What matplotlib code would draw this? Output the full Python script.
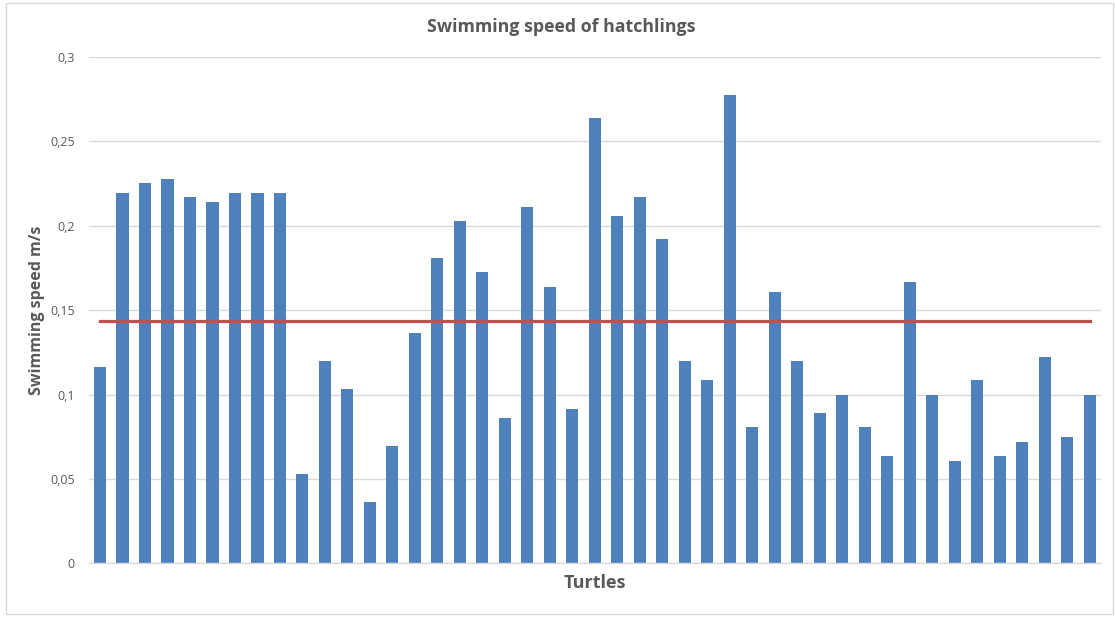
import numpy as np
import matplotlib.pyplot as plt
from matplotlib.patches import Rectangle

# swimming speed per turtle (m/s)
turtles = np.arange(1, 46)
speed = [0.1166, 0.2195, 0.2252, 0.2278, 0.2168, 0.2142, 0.2195, 0.2195, 0.2195,
         0.0528, 0.1196, 0.1030, 0.0362, 0.0694, 0.1362, 0.1807, 0.2030, 0.1724,
         0.0860, 0.2110, 0.1640, 0.0917, 0.2638, 0.2055, 0.2168, 0.1919, 0.1196,
         0.1085, 0.2774, 0.0806, 0.1610, 0.1196, 0.0889, 0.1000, 0.0806, 0.0637,
         0.1666, 0.1000, 0.0609, 0.1085, 0.0637, 0.0720, 0.1224, 0.0750, 0.1000]
yticks = [0, 0.05, 0.1, 0.15, 0.2, 0.25, 0.3]
ytick_labels = ["0", "0,05", "0,1", "0,15", "0,2", "0,25", "0,3"]

mean_speed = np.mean(speed)

font = ["Open Sans", "DejaVu Sans"]
grey = "#595959"
grid = "#d9d9d9"

fig = plt.figure(figsize=(11.15, 6.17), dpi=100)
ax = fig.add_axes([0.0796, 0.087, 0.9077, 0.8206])

ax.bar(turtles, speed, width=0.54, color="#4f81bd", zorder=2)
ax.plot([turtles[0], turtles[-1]], [mean_speed, mean_speed],
        color="#c0504d", linewidth=2.3, zorder=3)

ax.set_xlim(0.5, len(turtles) + 0.5)
ax.set_ylim(0, 0.3)
ax.set_yticks(yticks)
ax.set_yticklabels(ytick_labels, fontfamily=font, fontsize=9, color=grey)
ax.set_xticks([])
ax.tick_params(axis="y", length=0, pad=10)
ax.yaxis.grid(True, color=grid, linewidth=1)
ax.set_axisbelow(True)
for side in ["top", "right", "left"]:
    ax.spines[side].set_visible(False)
ax.spines["bottom"].set_color(grid)
ax.spines["bottom"].set_linewidth(1)

ax.set_ylabel("Swimming speed m/s", fontfamily=font, fontsize=11.5,
              fontweight="bold", color=grey, labelpad=4)
ax.set_xlabel("Turtles", fontfamily=font, fontsize=13,
              fontweight="bold", color=grey, labelpad=8)
fig.text(0.503, 0.956, "Swimming speed of hatchlings", ha="center", va="center",
         fontfamily=font, fontsize=12.8, fontweight="bold", color=grey)

# chart border
fig.patches.append(Rectangle((6 / 1115, 3 / 617), 1107 / 1115, 611 / 617,
                             transform=fig.transFigure, fill=False,
                             edgecolor=grid, linewidth=1))

fig.savefig("out.png", dpi=100)
